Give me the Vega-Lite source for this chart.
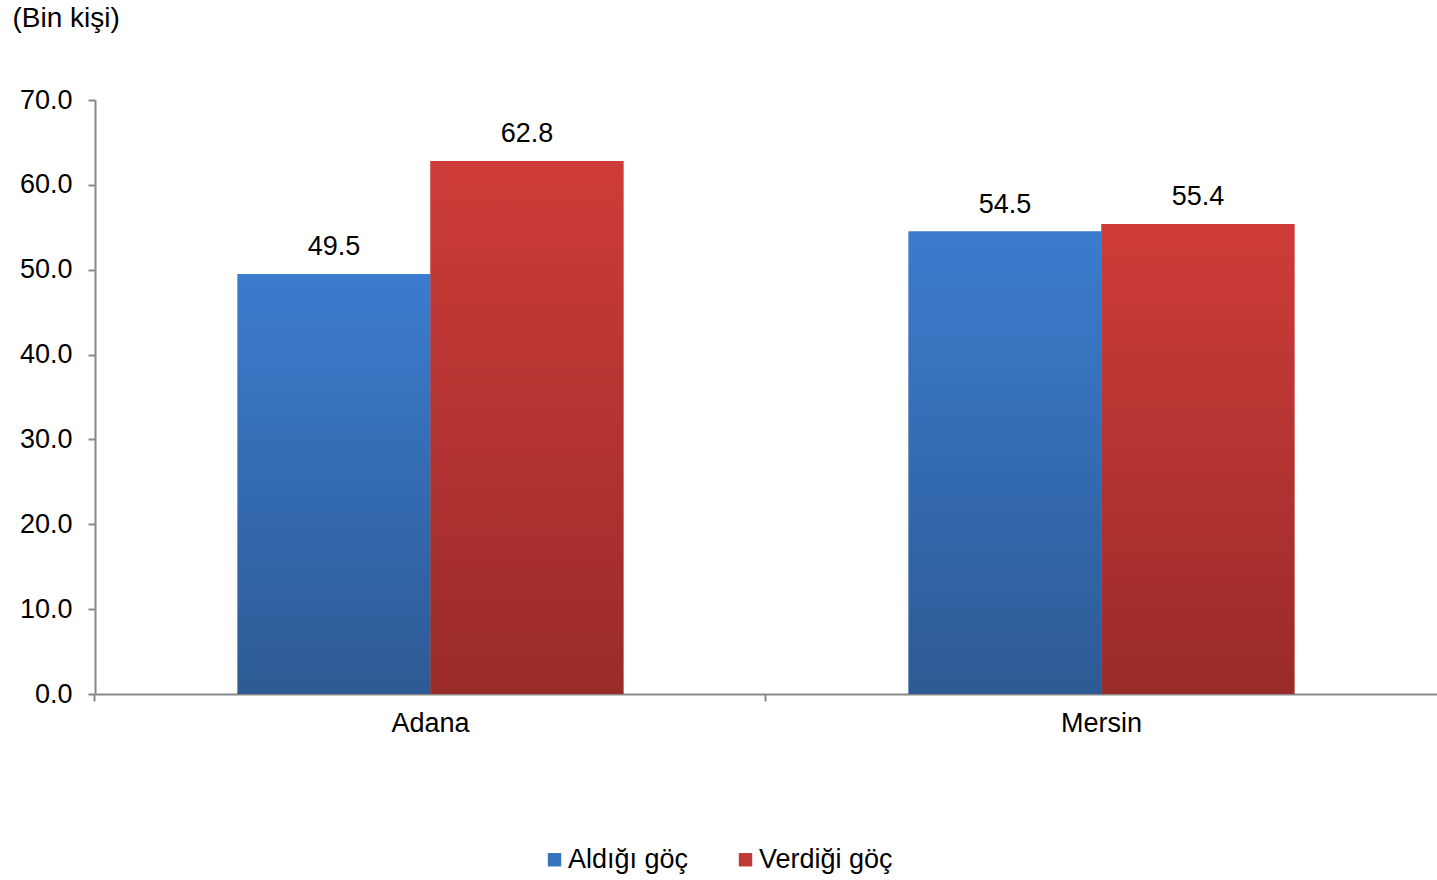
{
  "$schema": "https://vega.github.io/schema/vega-lite/v6.json",
  "width": 1342,
  "height": 594,
  "autosize": "none",
  "padding": {"left": 95, "top": 100, "right": 0, "bottom": 186},
  "background": "white",
  "data": {"values": [
    {"il": "Adana", "tur": "Aldığı göç", "deger": 49.5},
    {"il": "Adana", "tur": "Verdiği göç", "deger": 62.8},
    {"il": "Mersin", "tur": "Aldığı göç", "deger": 54.5},
    {"il": "Mersin", "tur": "Verdiği göç", "deger": 55.4}
  ]},
  "config": {"view": {"stroke": null}, "font": "Liberation Sans"},
  "encoding": {
    "x": {
      "field": "il", "type": "nominal", "sort": null,
      "scale": {"paddingInner": 0.425, "paddingOuter": 0.2125},
      "axis": {
        "title": null, "labelAngle": 0, "labelFontSize": 27, "labelColor": "black",
        "labelPadding": 9, "domainColor": "#888888", "domainWidth": 2,
        "tickColor": "#888888", "tickWidth": 2, "tickSize": 7, "bandPosition": -0.3705
      }
    },
    "xOffset": {"field": "tur", "type": "nominal", "sort": null, "scale": {"paddingInner": 0, "paddingOuter": 0}},
    "y": {
      "field": "deger", "type": "quantitative",
      "scale": {"domain": [0, 70], "nice": false},
      "axis": {
        "title": "(Bin kişi)", "titleAngle": 0, "titleAlign": "left", "titleBaseline": "middle",
        "titleX": -83, "titleY": -82, "titleFontSize": 28, "titleFontWeight": "normal", "titleColor": "black",
        "values": [0, 10, 20, 30, 40, 50, 60, 70], "format": ".1f",
        "labelFontSize": 27, "labelColor": "black", "labelPadding": 16, "grid": false,
        "domainColor": "#888888", "domainWidth": 2, "tickColor": "#888888", "tickWidth": 2, "tickSize": 7
      }
    }
  },
  "layer": [
    {
      "mark": {"type": "bar"},
      "encoding": {
        "color": {
          "field": "tur", "type": "nominal", "sort": null,
          "scale": {"domain": ["Aldığı göç", "Verdiği göç"], "range": ["#3672bd", "#c13a37"]},
          "legend": {
            "title": null, "orient": "none", "direction": "horizontal",
            "legendX": 446, "legendY": 746,
            "symbolType": "square", "symbolSize": 180, "symbolStrokeWidth": 0,
            "labelFontSize": 27, "labelColor": "black", "labelOffset": 0, "columnPadding": 43
          }
        }
      }
    },
    {
      "mark": {"type": "bar"},
      "encoding": {
        "color": {
          "condition": {
            "test": "datum.tur === 'Aldığı göç'",
            "value": {"gradient": "linear", "x1": 0, "y1": 0, "x2": 0, "y2": 1,
              "stops": [{"offset": 0, "color": "#3b7cce"}, {"offset": 1, "color": "#2d5a94"}]}
          },
          "value": {"gradient": "linear", "x1": 0, "y1": 0, "x2": 0, "y2": 1,
            "stops": [{"offset": 0, "color": "#ce3c39"}, {"offset": 1, "color": "#992b29"}]}
        }
      }
    },
    {
      "mark": {"type": "text", "baseline": "bottom", "dy": -13, "fontSize": 27, "color": "black"},
      "encoding": {"text": {"field": "deger", "type": "quantitative", "format": ".1f"}}
    }
  ]
}
